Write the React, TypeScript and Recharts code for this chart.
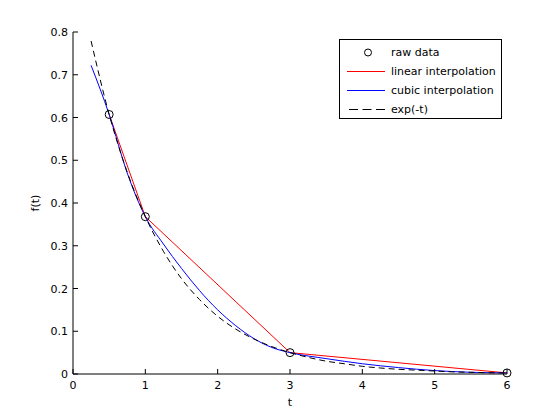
import { ComposedChart, Line, XAxis, YAxis, Legend, Label } from 'recharts'

// samples
const T_RAW = [0.5, 1, 3, 6]
const F_RAW = [0.607, 0.368, 0.05, 0.0025]

const T_LINEAR = [0.5, 1, 3, 6]
const F_LINEAR = [0.607, 0.368, 0.05, 0.0025]

const T_CUBIC = [0.25, 0.5, 0.75, 1, 1.25, 1.5, 1.75, 2, 2.25, 2.5, 2.75, 3, 3.5, 4, 4.5, 5, 5.5, 6]
const F_CUBIC = [0.722, 0.607, 0.47, 0.368, 0.304, 0.247, 0.195, 0.15, 0.113, 0.083, 0.062, 0.05, 0.036, 0.024, 0.015, 0.008, 0.004, 0.0025]

const T_EXP = [0.25, 0.5, 0.75, 1, 1.25, 1.5, 1.75, 2, 2.25, 2.5, 2.75, 3, 3.25, 3.5, 3.75, 4, 4.25, 4.5, 4.75, 5, 5.25, 5.5, 5.75, 6]
const F_EXP = [0.779, 0.607, 0.472, 0.368, 0.287, 0.223, 0.174, 0.135, 0.105, 0.082, 0.064, 0.05, 0.039, 0.03, 0.024, 0.018, 0.014, 0.011, 0.009, 0.007, 0.005, 0.004, 0.003, 0.0025]

const X_TICKS = [0, 1, 2, 3, 4, 5, 6]
const Y_TICKS = [0, 0.1, 0.2, 0.3, 0.4, 0.5, 0.6, 0.7, 0.8]

const LEGEND_ITEMS = [
  { label: 'raw data', kind: 'marker', color: '#000000' },
  { label: 'linear interpolation', kind: 'line', color: '#ff0000' },
  { label: 'cubic interpolation', kind: 'line', color: '#0000ff' },
  { label: 'exp(-t)', kind: 'dash', color: '#000000' },
]

const FONT = '"DejaVu Sans", sans-serif'
const INK = '#000000'

const zip = (t: number[], f: number[]) => t.map((v, i) => ({ t: v, f: f[i] }))

const rawData = zip(T_RAW, F_RAW)
const linearData = zip(T_LINEAR, F_LINEAR)
const cubicData = zip(T_CUBIC, F_CUBIC)
const expData = zip(T_EXP, F_EXP)

// matlab style ticks: pointing into the plot
function XTick({ x, y, payload }: any) {
  return (
    <g>
      <line x1={x} x2={x} y1={y} y2={y - 5} stroke={INK} />
      <text x={x} y={y + 15} textAnchor="middle" fontSize={11} fontFamily={FONT} fill={INK}>
        {String(payload.value)}
      </text>
    </g>
  )
}

function YTick({ x, y, payload }: any) {
  return (
    <g>
      <line x1={x} x2={x + 5} y1={y} y2={y} stroke={INK} />
      <text x={x - 5} y={y + 4} textAnchor="end" fontSize={11} fontFamily={FONT} fill={INK}>
        {String(payload.value)}
      </text>
    </g>
  )
}

function YLabel({ viewBox }: any) {
  const cx = viewBox.x + 35
  const cy = viewBox.y + viewBox.height / 2
  return (
    <text x={cx} y={cy} transform={`rotate(-90 ${cx} ${cy})`} textAnchor="middle" dy={4} fontSize={11} fontFamily={FONT} fill={INK}>
      f(t)
    </text>
  )
}

function LegendBox() {
  return (
    <div style={{ position: 'relative', width: 161, height: 78, border: `1px solid ${INK}`, background: '#fff', fontFamily: FONT, fontSize: 11, color: INK }}>
      {LEGEND_ITEMS.map((item, i) => (
        <div key={item.label} style={{ position: 'absolute', left: 0, top: 3 + i * 19, height: 19, display: 'flex', alignItems: 'center', whiteSpace: 'nowrap' }}>
          <svg width={51} height={19} style={{ display: 'block' }}>
            {item.kind === 'marker' && <circle cx={28} cy={9.5} r={3.5} fill="none" stroke={item.color} />}
            {item.kind === 'line' && <line x1={7} x2={45} y1={9.5} y2={9.5} stroke={item.color} />}
            {item.kind === 'dash' && <line x1={9} x2={45} y1={9.5} y2={9.5} stroke={item.color} strokeDasharray="9 4.5" />}
          </svg>
          <span>{item.label}</span>
        </div>
      ))}
    </div>
  )
}

export default function App() {
  return (
    <div style={{ position: 'absolute', left: 0, top: 0, background: '#fff' }}>
      <ComposedChart width={560} height={420} margin={{ top: 32, right: 53, bottom: 0, left: 0 }}>
        <XAxis
          dataKey="t"
          type="number"
          domain={[0, 6]}
          ticks={X_TICKS}
          allowDuplicatedCategory={false}
          height={46}
          tickSize={0}
          tickMargin={0}
          tickLine={false}
          axisLine={{ stroke: INK }}
          tick={<XTick />}
        >
          <Label value="t" position="insideBottom" offset={14} fontSize={11} fontFamily={FONT} fill={INK} />
        </XAxis>
        <YAxis
          type="number"
          domain={[0, 0.8]}
          ticks={Y_TICKS}
          width={73}
          tickSize={0}
          tickMargin={0}
          tickLine={false}
          axisLine={{ stroke: INK }}
          tick={<YTick />}
        >
          <Label content={<YLabel />} />
        </YAxis>
        <Legend
          layout="vertical"
          align="center"
          verticalAlign="middle"
          width={163}
          content={<LegendBox />}
          wrapperStyle={{ left: 339, top: 39, width: 163 }}
        />
        <Line data={rawData} dataKey="f" stroke="none" isAnimationActive={false} activeDot={false}
          dot={{ r: 4, stroke: INK, strokeWidth: 1, fill: 'none' }} legendType="none" />
        <Line data={linearData} dataKey="f" type="linear" stroke="#ff0000" strokeWidth={1} dot={false} isAnimationActive={false} />
        <Line data={cubicData} dataKey="f" type="monotone" stroke="#0000ff" strokeWidth={1} dot={false} isAnimationActive={false} />
        <Line data={expData} dataKey="f" type="monotone" stroke={INK} strokeWidth={1} strokeDasharray="6 4" dot={false} isAnimationActive={false} />
      </ComposedChart>
    </div>
  )
}
